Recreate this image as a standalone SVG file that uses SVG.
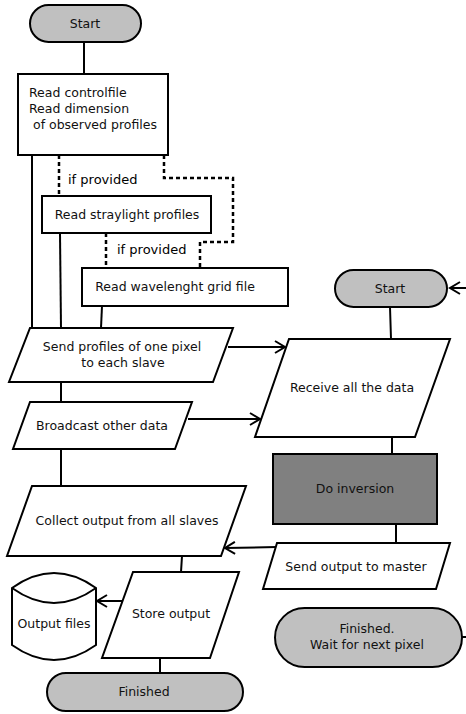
<svg xmlns="http://www.w3.org/2000/svg" width="466" height="714" viewBox="0 0 466 714">
<defs>
<marker id="arr" markerUnits="userSpaceOnUse" markerWidth="14" markerHeight="14" refX="11" refY="7" orient="auto">
<path d="M1,1 L11,7 L1,13" fill="none" stroke="#000" stroke-width="2"/>
</marker>
<style>
.s{fill:#fff;stroke:#000;stroke-width:2}
.t{fill:#c0c0c0;stroke:#000;stroke-width:2}
.d{fill:#808080;stroke:#000;stroke-width:2}
.l{fill:none;stroke:#000;stroke-width:2}
.dot{fill:none;stroke:#000;stroke-width:2.5;stroke-dasharray:4 3}
text{font-family:"DejaVu Sans",Verdana,sans-serif;font-size:12.5px;fill:#111}
.c{text-anchor:middle}
.ip{fill:#000;font-size:13px}
</style>
</defs>
<g id="connectors">
<line class="l" x1="84" y1="42" x2="84" y2="75"/>
<line class="l" x1="32" y1="155" x2="32" y2="328"/>
<line class="l" x1="60" y1="233" x2="61" y2="328"/>
<line class="l" x1="102" y1="306" x2="101" y2="328"/>
<polyline class="dot" points="59,155 59,196"/>
<polyline class="dot" points="164,155 164,178 233,178 233,242 200,242 200,268"/>
<polyline class="dot" points="106,233 106,268"/>
<line class="l" x1="228" y1="347" x2="285" y2="347" marker-end="url(#arr)"/>
<line class="l" x1="61" y1="382" x2="61" y2="402"/>
<line class="l" x1="188" y1="419" x2="260" y2="419" marker-end="url(#arr)"/>
<line class="l" x1="61" y1="449" x2="61" y2="486"/>
<line class="l" x1="466" y1="288" x2="450" y2="288" marker-end="url(#arr)"/>
<line class="l" x1="390" y1="307" x2="391" y2="339"/>
<line class="l" x1="392" y1="437" x2="392" y2="454"/>
<line class="l" x1="396" y1="524" x2="396" y2="543"/>
<line class="l" x1="277" y1="547" x2="225" y2="548" marker-end="url(#arr)"/>
<line class="l" x1="182" y1="556" x2="181" y2="572"/>
<line class="l" x1="122" y1="601" x2="97" y2="601" marker-end="url(#arr)"/>
<line class="l" x1="160" y1="658" x2="160" y2="673"/>
<line class="l" x1="462" y1="637" x2="466" y2="637"/>
<text class="ip" x="68" y="184">if provided</text>
<text class="ip" x="117" y="254">if provided</text>
</g>
<g id="start-master">
<rect class="t" x="30" y="5" width="111" height="37" rx="18.5"/>
<text class="c" x="85" y="28">Start</text>
</g>
<g id="read-control">
<rect class="s" x="18" y="74" width="150" height="81"/>
<text x="29" y="97">Read controlfile</text>
<text x="29" y="113">Read dimension</text>
<text x="33" y="129">of observed profiles</text>
</g>
<g id="read-straylight">
<rect class="s" x="42" y="196" width="169" height="37"/>
<text class="c" x="127" y="219">Read straylight profiles</text>
</g>
<g id="read-wavelength">
<rect class="s" x="82" y="268" width="206" height="38"/>
<text class="c" x="175" y="291">Read wavelenght grid file</text>
</g>
<g id="send-profiles">
<polygon class="s" points="30,328 233,328 213,382 9,382"/>
<text class="c" x="122" y="351">Send profiles of one pixel</text>
<text class="c" x="123" y="367">to each slave</text>
</g>
<g id="broadcast">
<polygon class="s" points="30,402 192,402 175,449 13,449"/>
<text class="c" x="102" y="430">Broadcast other data</text>
</g>
<g id="collect">
<polygon class="s" points="32,486 246,486 221,556 7,556"/>
<text class="c" x="127" y="525">Collect output from all slaves</text>
</g>
<g id="store">
<polygon class="s" points="133,572 239,572 210,658 102,658"/>
<text class="c" x="171" y="618">Store output</text>
</g>
<g id="output-files">
<path class="s" d="M12,588 Q54,558 96,588 L96,645 Q54,675 12,645 Z"/>
<path class="l" d="M12,588 Q54,618 96,588"/>
<text class="c" x="54" y="628">Output files</text>
</g>
<g id="finished-master">
<rect class="t" x="47" y="673" width="196" height="38" rx="19"/>
<text class="c" x="144" y="696">Finished</text>
</g>
<g id="start-slave">
<rect class="t" x="335" y="270" width="112" height="37" rx="18.5"/>
<text class="c" x="390" y="293">Start</text>
</g>
<g id="receive">
<polygon class="s" points="289,339 450,339 415,437 255,437"/>
<text class="c" x="352" y="392">Receive all the data</text>
</g>
<g id="do-inversion">
<rect class="d" x="273" y="454" width="164" height="70"/>
<text class="c" x="355" y="493">Do inversion</text>
</g>
<g id="send-output">
<polygon class="s" points="277,543 450,543 436,589 263,589"/>
<text class="c" x="356" y="571">Send output to master</text>
</g>
<g id="finished-slave">
<rect class="t" x="275" y="608" width="187" height="59" rx="29.5"/>
<text class="c" x="367" y="633">Finished.</text>
<text class="c" x="367" y="649">Wait for next pixel</text>
</g>
</svg>
